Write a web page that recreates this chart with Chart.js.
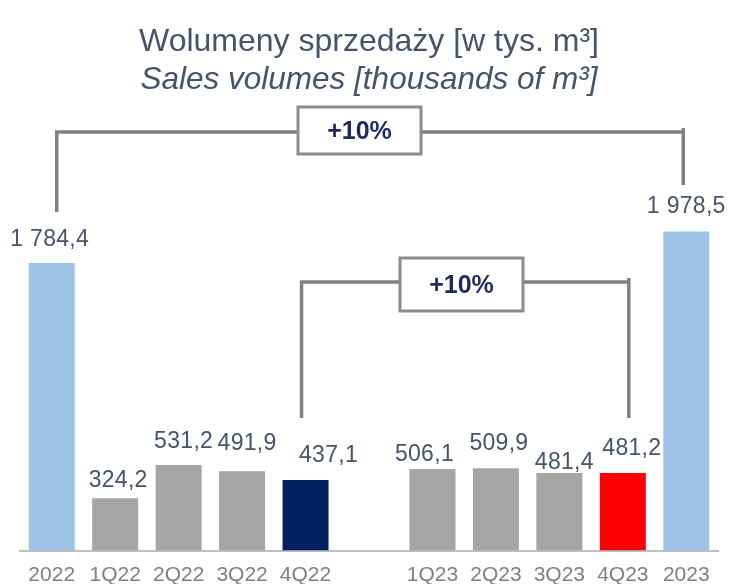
<!DOCTYPE html>
<html>
<head>
<meta charset="utf-8">
<script src="https://cdn.jsdelivr.net/npm/chart.js@4"></script>
<style>
  html, body { margin: 0; padding: 0; background: #ffffff; }
  canvas { display: block; }
</style>
</head>
<body>
<canvas id="salesChart" width="730" height="584"></canvas>
<script>

// categories - empty slot between the two years
const periods = ['2022', '1Q22', '2Q22', '3Q22', '4Q22', '', '1Q23', '2Q23', '3Q23', '4Q23', '2023'];
const volumes = [1784.4, 324.2, 531.2, 491.9, 437.1, null, 506.1, 509.9, 481.4, 481.2, 1978.5];
const valueLabels = ['1 784,4', '324,2', '531,2', '491,9', '437,1', '', '506,1', '509,9', '481,4', '481,2', '1 978,5'];
const barColors = ['#9DC3E6', '#A5A5A5', '#A5A5A5', '#A5A5A5', '#002060', '#FFFFFF', '#A5A5A5', '#A5A5A5', '#A5A5A5', '#FF0000', '#9DC3E6'];
const growthLabels = ['+10%', '+10%'];

// label nudges (dx, dy from bar centre / bar top), as placed in the original slide
const labelNudge = [[-2, -23], [3, -18], [5, -23], [5, -28], [23, -24], [0, 0], [-8, -14], [3, -25], [5, -10], [9, -24], [0, -25]];

const textBlue = '#44546A';
const lineGrey = '#808080';

const valueLabelPlugin = {
    id: 'valueLabels',
    afterDatasetsDraw(chart) {
        const ctx = chart.ctx;
        const meta = chart.getDatasetMeta(0);
        ctx.save();
        ctx.font = '23px "Liberation Sans", Arial, sans-serif';
        ctx.letterSpacing = '0.3px';
        ctx.fillStyle = textBlue;
        ctx.textAlign = 'center';
        ctx.textBaseline = 'middle';
        meta.data.forEach((bar, i) => {
            if (volumes[i] === null) return;
            ctx.fillText(valueLabels[i], bar.x + labelNudge[i][0], bar.y + labelNudge[i][1]);
        });
        ctx.restore();
    }
};

function drawBracket(ctx, left, right, lineY, leftBottom, rightBottom, box, text) {
    ctx.strokeStyle = lineGrey;
    ctx.lineWidth = 3.5;
    ctx.beginPath();
    ctx.moveTo(left, leftBottom);
    ctx.lineTo(left, lineY);
    ctx.lineTo(right, lineY);
    ctx.stroke();
    ctx.beginPath();
    ctx.moveTo(right, lineY - 4);
    ctx.lineTo(right, rightBottom);
    ctx.stroke();

    ctx.fillStyle = '#FFFFFF';
    ctx.fillRect(box.x, box.y, box.w, box.h);
    ctx.strokeStyle = '#8C8C8C';
    ctx.lineWidth = 3;
    ctx.strokeRect(box.x, box.y, box.w, box.h);

    ctx.fillStyle = '#1F2A5E';
    ctx.font = 'bold 25px "Liberation Sans", Arial, sans-serif';
    ctx.textAlign = 'center';
    ctx.textBaseline = 'middle';
    ctx.fillText(text, box.x + box.w / 2, box.y + box.h / 2 + 2);
}

const bracketPlugin = {
    id: 'brackets',
    afterDraw(chart) {
        const ctx = chart.ctx;
        const x = chart.scales.x;
        ctx.save();
        // whole year
        drawBracket(ctx, x.getPixelForValue(0) + 5, x.getPixelForValue(10) - 3, 132, 212, 185,
            { x: 298, y: 107, w: 123, h: 47 }, growthLabels[0]);
        // 4Q22 vs 4Q23
        drawBracket(ctx, x.getPixelForValue(4) - 4, x.getPixelForValue(9) + 6, 282, 418, 418,
            { x: 400, y: 258, w: 123, h: 53 }, growthLabels[1]);
        ctx.restore();
    }
};

const ctx = document.getElementById('salesChart').getContext('2d');
const salesChart = new Chart(ctx, {
    type: 'bar',
    data: {
        labels: periods,
        datasets: [{
            data: volumes,
            backgroundColor: barColors,
            categoryPercentage: 1,
            barPercentage: 0.725
        }]
    },
    options: {
        responsive: false,
        animation: false,
        layout: { padding: { left: 20, right: 12, top: 0, bottom: 0 } },
        plugins: {
            legend: { display: false },
            tooltip: { enabled: false },
            title: {
                display: true,
                text: 'Wolumeny sprzedaży [w tys. m³]',
                color: textBlue,
                font: { family: '"Liberation Sans", Arial, sans-serif', size: 32, weight: 'normal', lineHeight: 1.2 },
                padding: { top: 23, bottom: 0 }
            },
            subtitle: {
                display: true,
                text: 'Sales volumes [thousands of m³]',
                color: textBlue,
                font: { family: '"Liberation Sans", Arial, sans-serif', size: 31.5, style: 'italic', lineHeight: 1.2 },
                padding: { top: 0, bottom: 0 }
            }
        },
        scales: {
            x: {
                grid: { display: false, drawTicks: false },
                border: { display: true, color: '#BFBFBF', width: 2 },
                ticks: {
                    color: '#7F7F7F',
                    font: { family: '"Liberation Sans", Arial, sans-serif', size: 21, lineHeight: 1.2 },
                    padding: 12,
                    maxRotation: 0,
                    autoSkip: false
                },
                afterFit: (scale) => { scale.height = 33.5; }
            },
            y: {
                display: false,
                min: 0,
                max: 2800
            }
        }
    },
    plugins: [valueLabelPlugin, bracketPlugin]
});

</script>
</body>
</html>
